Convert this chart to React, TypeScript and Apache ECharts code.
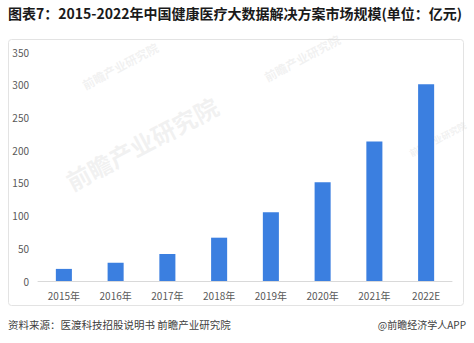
import React, { useEffect, useRef } from "react";
import * as echarts from "echarts";

const categories = ["2015年", "2016年", "2017年", "2018年", "2019年", "2020年", "2021年", "2022E"];
const values = [18.5, 27.8, 41.3, 66.2, 105.1, 151.0, 213.2, 300.6];
const yTicks = [0, 50, 100, 150, 200, 250, 300, 350];
const titleText = "图表7：2015-2022年中国健康医疗大数据解决方案市场规模(单位：亿元)";
const sourceText = "资料来源：医渡科技招股说明书 前瞻产业研究院";
const brandText = "@前瞻经济学人APP";
const watermarkText = "前瞻产业研究院";

export default function App() {
  const ref = useRef<HTMLDivElement>(null);
  useEffect(() => {
    if (!ref.current) return;
    const chart = echarts.init(ref.current, null, { renderer: "svg" });
    const font = "'Noto Sans CJK SC', 'Noto Sans', sans-serif";
    const wm = (x: number, y: number, size: number) => ({
      type: "text",
      x,
      y,
      rotation: (28 * Math.PI) / 180,
      silent: true,
      z: 0,
      style: {
        text: watermarkText,
        fill: "rgba(215,215,215,0.35)",
        font: `bold ${size}px ${font}`,
      },
    });
    chart.setOption({
      animation: false,
      backgroundColor: "#ffffff",
      grid: { left: 38, right: 22, top: 52, bottom: 62, containLabel: false },
      xAxis: {
        type: "category",
        data: categories,
        axisLine: { lineStyle: { color: "#d9d9d9" } },
        axisTick: { show: false },
        axisLabel: { color: "#595959", fontSize: 10, margin: 9, fontFamily: font },
      },
      yAxis: {
        type: "value",
        min: yTicks[0],
        max: yTicks[yTicks.length - 1],
        interval: 50,
        splitLine: { show: false },
        axisLine: { show: false },
        axisTick: { show: false },
        axisLabel: { color: "#595959", fontSize: 10, margin: 9, fontFamily: font },
      },
      series: [
        {
          type: "bar",
          data: values,
          barWidth: "31%",
          itemStyle: { color: "#3b7fe0" },
          z: 5,
        },
      ],
      graphic: [
        {
          type: "text",
          left: 8,
          top: 6,
          style: {
            text: titleText,
            fill: "#1a1a1a",
            font: `bold 14px ${font}`,
          },
        },
        {
          type: "rect",
          shape: { x: 8.5, y: 39.5, width: 455, height: 266, r: 3 },
          style: { fill: "none", stroke: "#e3e3e3", lineWidth: 1 },
          silent: true,
        },
        wm(80, 80, 12),
        wm(262, 72, 12),
        wm(62, 172, 24),
        wm(408, 150, 9),
        {
          type: "text",
          left: 8,
          top: 319,
          style: { text: sourceText, fill: "#404040", font: `10.5px ${font}` },
        },
        {
          type: "text",
          right: 8,
          top: 319,
          style: { text: brandText, fill: "#404040", font: `10px ${font}` },
        },
      ],
    });
    return () => chart.dispose();
  }, []);
  return (
    <div
      ref={ref}
      style={{ position: "fixed", left: 0, top: 0, width: 474, height: 343 }}
    />
  );
}
